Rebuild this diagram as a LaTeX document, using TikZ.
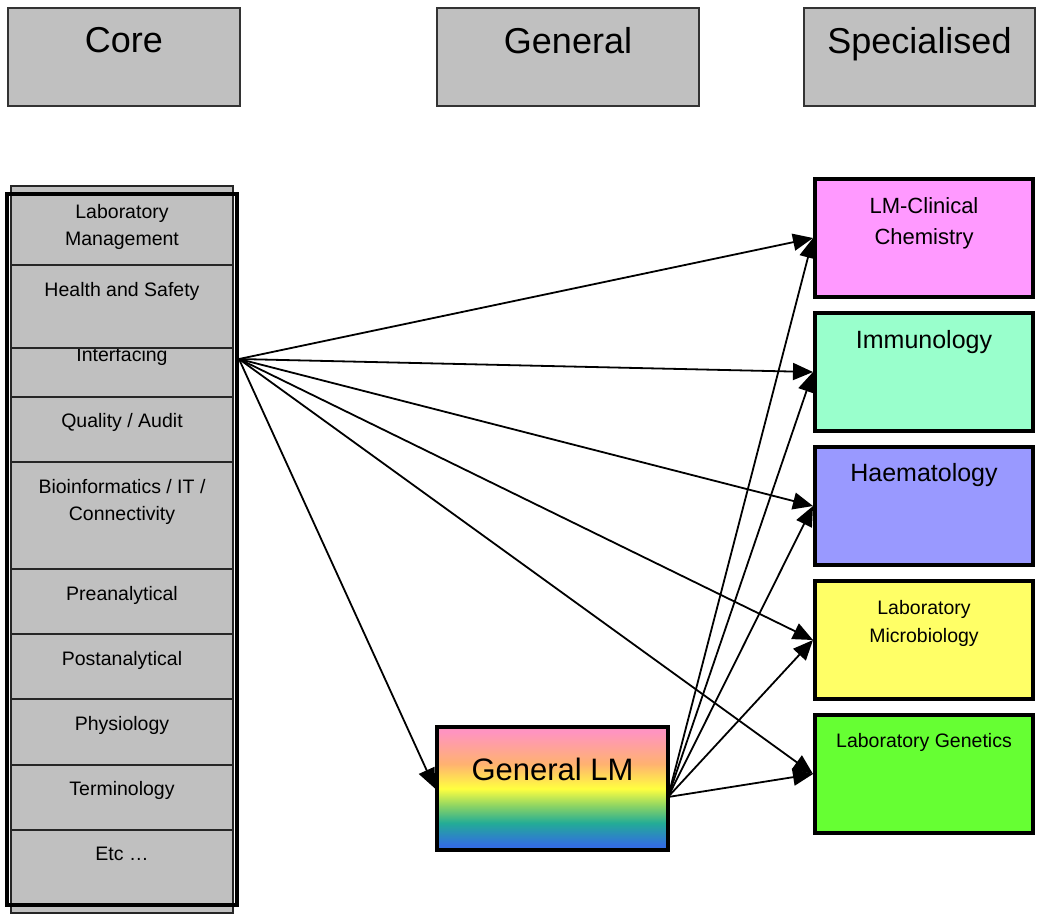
\documentclass[tikz,border=0pt]{standalone}
\usepackage{fontspec}
\setmainfont{Liberation Sans}
\usetikzlibrary{positioning,arrows.meta}

\definecolor{lmgray}{HTML}{C0C0C0}
\definecolor{chemfill}{HTML}{FF99FF}
\definecolor{immufill}{HTML}{99FFCC}
\definecolor{haemfill}{HTML}{9999FF}
\definecolor{microfill}{HTML}{FFFF66}
\definecolor{genefill}{HTML}{66FF33}
\definecolor{rbblue}{RGB}{50,110,225}
\definecolor{rbteal}{RGB}{35,172,150}
\definecolor{rbgreen}{RGB}{140,212,100}
\definecolor{rbyellow}{RGB}{255,255,64}
\definecolor{rborange}{RGB}{255,178,112}
\definecolor{rbpink}{RGB}{255,148,192}

\pgfdeclareverticalshading{lmrainbow}{100bp}{%
  color(0bp)=(rbblue); color(27bp)=(rbblue); color(36bp)=(rbteal);
  color(43bp)=(rbgreen); color(50bp)=(rbyellow); color(60bp)=(rborange);
  color(73bp)=(rbpink); color(100bp)=(rbpink)}

\newcommand\lmhead{\fontsize{36}{42}\selectfont}
\newcommand\lmcell{\fontsize{19.5}{27}\selectfont}
\newcommand\lmmicro{\fontsize{19.5}{28}\selectfont}
\newcommand\lmmid{\fontsize{22}{31}\selectfont}
\newcommand\lmspec{\fontsize{25}{30}\selectfont}
\newcommand\lmbig{\fontsize{31}{36}\selectfont}

\begin{document}
\begin{tikzpicture}
    [x=1pt, y=-1pt,
    headbox/.style={draw=black!80, line width=2pt, fill=lmgray, minimum height=98pt},
    cellbox/.style={draw=black!85, line width=1.5pt, fill=lmgray, outer sep=0pt,
      minimum width=222pt},
    specbox/.style={draw=black, line width=4pt, minimum width=218pt, minimum height=118pt},
    intext/.style={anchor=north, inner sep=0pt, align=center, yshift={-(#1)}},
    arr/.style={-{Triangle[length=20pt,width=17pt]}, line width=1.8pt}]
    \useasboundingbox (0,0) rectangle (1037,914);

    % column heads
    \node[headbox, minimum width=232pt,
      label={[intext=20pt, font=\lmhead]north:Core}] (core) at (124,57) {};
    \node[headbox, minimum width=262pt,
      label={[intext=20pt, font=\lmhead]north:General}] (general) at (568,57) {};
    \node[headbox, minimum width=231pt,
      label={[intext=20pt, font=\lmhead]north:Specialised}] (special) at (919.5,57) {};

    % core column, stacked from the bottom up
    \node[cellbox, minimum height=83pt, anchor=south,
      label={[intext=17pt, font=\lmcell]north:Etc …}] (etc) at (122,913) {};
    \node[cellbox, minimum height=65pt, above=0pt of etc,
      label={[intext=16pt, font=\lmcell]north:Terminology}] (term) {};
    \node[cellbox, minimum height=66pt, above=0pt of term,
      label={[intext=17pt, font=\lmcell]north:Physiology}] (phys) {};
    \node[cellbox, minimum height=65pt, above=0pt of phys,
      label={[intext=17pt, font=\lmcell]north:Postanalytical}] (post) {};
    \node[cellbox, minimum height=65pt, above=0pt of post,
      label={[intext=17pt, font=\lmcell]north:Preanalytical}] (pre) {};
    \node[cellbox, minimum height=107pt, above=0pt of pre,
      label={[intext=17pt, font=\lmcell]north:Bioinformatics / IT /\\Connectivity}] (bio) {};
    \node[cellbox, minimum height=65pt, above=0pt of bio,
      label={[intext=16pt, font=\lmcell]north:Quality / Audit}] (qual) {};
    \node[cellbox, minimum height=49pt, above=0pt of qual,
      label={[intext=-1pt, font=\lmcell]north:Interfacing}] (intf) {};
    \node[cellbox, minimum height=83pt, above=0pt of intf,
      label={[intext=17pt, font=\lmcell]north:Health and Safety}] (hs) {};
    \node[cellbox, minimum height=79pt, above=0pt of hs,
      label={[intext=18pt, font=\lmcell]north:Laboratory\\Management}] (lm) {};
    \node[draw, line width=4pt, outer sep=0pt, minimum width=230.5pt,
      minimum height=711pt] (coreframe) at (121.75,549) {};

    % general
    \node[draw, line width=4pt, shade, shading=lmrainbow, minimum width=231pt,
      minimum height=123pt,
      label={[intext=33pt, font=\lmbig]north:General LM}] (genlm) at (552.5,788.5) {};

    % specialised
    \node[specbox, fill=chemfill,
      label={[intext=20pt, font=\lmmid]north:LM-Clinical\\Chemistry}] (chem) at (924,238) {};
    \node[specbox, fill=immufill, below=12pt of chem,
      label={[intext=19pt, font=\lmspec]north:Immunology}] (immu) {};
    \node[specbox, fill=haemfill, below=12pt of immu,
      label={[intext=18pt, font=\lmspec]north:Haematology}] (haem) {};
    \node[specbox, fill=microfill, below=12pt of haem,
      label={[intext=21pt, font=\lmmicro]north:Laboratory\\Microbiology}] (micro) {};
    \node[specbox, fill=genefill, below=12pt of micro,
      label={[intext=20pt, font=\lmcell]north:Laboratory Genetics}] (gene) {};

    \coordinate (corehub) at (239,359);
    \coordinate (lmhub) at (668,797);

    \foreach \t in {chem,immu,haem,micro,gene}
      \draw[arr] (corehub) -- (\t.west);
    \draw[arr] (corehub) -- (genlm.west);
    \foreach \t in {chem,immu,haem,micro,gene}
      \draw[arr] (lmhub) -- (\t.west);
\end{tikzpicture}
\end{document}
